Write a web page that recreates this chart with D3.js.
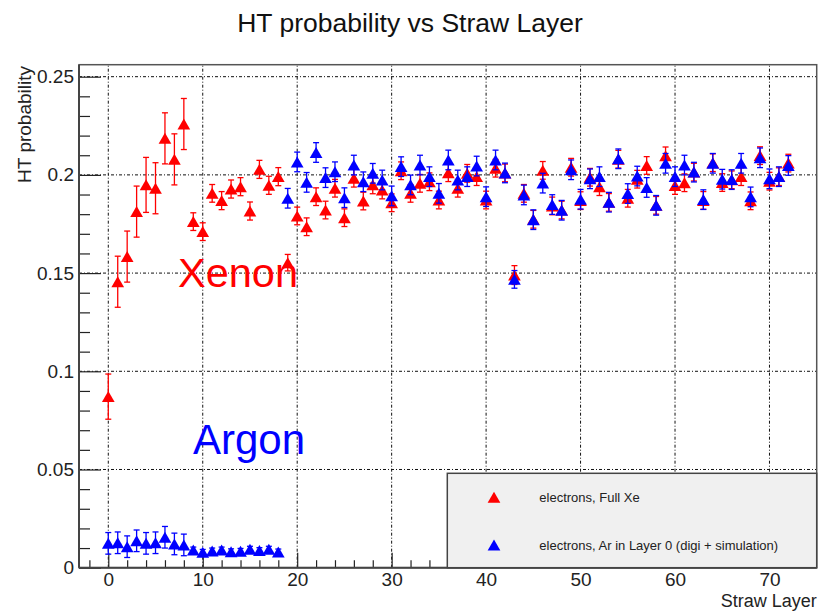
<!DOCTYPE html>
<html>
<head>
<meta charset="utf-8">
<script src="https://cdn.jsdelivr.net/npm/d3@7"></script>
<style>
  html, body { margin: 0; padding: 0; background: #fff; }
  svg { display: block; font-family: "Liberation Sans", Arial, sans-serif; }
</style>
</head>
<body>
<svg id="chart" width="828" height="611"></svg>
<script>
// ---------------- data ----------------
const layers = [0,1,2,3,4,5,6,7,8,9,10,11,12,13,14,15,16,17,18,19,20,21,22,23,24,25,26,27,28,29,30,31,32,33,34,35,36,37,38,39,40,41,42,43,44,45,46,47,48,49,50,51,52,53,54,55,56,57,58,59,60,61,62,63,64,65,66,67,68,69,70,71,72];

const xenonValues = [0.0871,0.1456,0.1584,0.1813,0.1949,0.1932,0.2186,0.2079,0.2259,0.1762,
  0.1711,0.1906,0.1869,0.1928,0.1940,0.1816,0.2028,0.1947,0.1991,0.1553,
  0.1791,0.1736,0.1889,0.1821,0.1932,0.1782,0.1983,0.1867,0.1949,0.1923,
  0.1858,0.2021,0.1906,0.1957,0.1965,0.1872,0.2011,0.1932,0.2008,0.1991,
  0.1872,0.2034,0.2010,0.1490,0.1906,0.1774,0.2023,0.1842,0.1821,0.2039,
  0.1869,0.1988,0.1940,0.1860,0.2080,0.1881,0.1978,0.2048,0.1845,0.2097,
  0.1946,0.1960,0.2014,0.1870,0.2062,0.1961,0.1975,0.1991,0.1868,0.2098,
  0.1968,0.1991,0.2060];
const xenonErrors = [0.0115,0.013,0.013,0.013,0.014,0.013,0.013,0.013,0.013,0.0045,
  0.0045,0.0045,0.0046,0.0046,0.0046,0.0046,0.0046,0.0046,0.0046,0.0042,
  0.0045,0.0045,0.0045,0.0045,0.0045,0.0045,0.0045,0.0045,0.0045,0.0045,
  0.0045,0.0045,0.0045,0.0045,0.0045,0.0045,0.0045,0.0045,0.0045,0.0045,
  0.0045,0.0045,0.0045,0.0048,0.0045,0.0045,0.0045,0.0045,0.0045,0.0045,
  0.0045,0.0045,0.0045,0.0045,0.0045,0.0045,0.0045,0.0045,0.0045,0.0045,
  0.0045,0.0045,0.0045,0.0045,0.0045,0.0045,0.0045,0.0045,0.0045,0.0045,
  0.0045,0.0045,0.0045];

const argonValues = [0.0124,0.0127,0.0107,0.0137,0.0124,0.0127,0.0155,0.0121,0.0116,0.0090,
  0.0078,0.0085,0.0090,0.0081,0.0083,0.0094,0.0087,0.0094,0.0080,0.1881,
  0.2066,0.1962,0.2114,0.1986,0.2016,0.1884,0.2050,0.1965,0.2008,0.1974,
  0.1893,0.2042,0.1949,0.2050,0.1991,0.1906,0.2076,0.1974,0.1991,0.2045,
  0.1889,0.2076,0.2010,0.1468,0.1898,0.1772,0.1958,0.1849,0.1820,0.2026,
  0.1876,0.1980,0.1991,0.1861,0.2082,0.1905,0.1994,0.1936,0.1845,0.2059,
  0.1991,0.2050,0.2014,0.1874,0.2059,0.1978,0.1976,0.2059,0.1888,0.2087,
  0.1980,0.1991,0.2048];
const argonErrors = [0.0055,0.0055,0.0055,0.0055,0.0055,0.0055,0.0055,0.0055,0.0055,0.0015,
  0.0015,0.0015,0.0015,0.0015,0.0015,0.0015,0.0015,0.0015,0.0015,0.005,
  0.005,0.005,0.005,0.005,0.005,0.005,0.005,0.005,0.005,0.005,
  0.005,0.005,0.005,0.005,0.005,0.005,0.005,0.005,0.005,0.005,
  0.005,0.005,0.005,0.0045,0.005,0.005,0.005,0.005,0.005,0.005,
  0.005,0.005,0.005,0.005,0.005,0.005,0.005,0.005,0.005,0.005,
  0.005,0.005,0.005,0.005,0.005,0.005,0.005,0.005,0.005,0.005,
  0.005,0.005,0.005];

const xMajorTicks = [0,10,20,30,40,50,60,70];
const xMinorTicks = [-2,2,4,6,8,12,14,16,18,22,24,26,28,32,34,36,38,42,44,46,48,52,54,56,58,62,64,66,68,72,74];
const yMajorTicks = [0,0.05,0.1,0.15,0.2,0.25];
const yTickLabels = ["0","0.05","0.1","0.15","0.2","0.25"];
const yMinorTicks = [0.01,0.02,0.03,0.04,0.06,0.07,0.08,0.09,0.11,0.12,0.13,0.14,0.16,0.17,0.18,0.19,0.21,0.22,0.23,0.24];

const seriesNames = ["electrons, Full Xe", "electrons, Ar in Layer 0 (digi + simulation)"];
const seriesColors = ["#ff0000", "#0000ff"];
const chartTitle = "HT probability vs Straw Layer";
const xTitle = "Straw Layer";
const yTitle = "HT probability";

// ---------------- chart ----------------
const svg = d3.select("#chart");
const L = 79, R = 816.7, T = 64.7, B = 567.7;
const x = d3.scaleLinear().domain([-3.1, 75.0]).range([L, R]);
const y = d3.scaleLinear().domain([0, 0.2561]).range([B, T]);

svg.append("rect").attr("width", 828).attr("height", 611).attr("fill", "#fff");

// grid
const grid = svg.append("g").attr("stroke", "#111").attr("stroke-width", 1)
  .attr("stroke-dasharray", "3,2,1,2").attr("fill", "none");
grid.selectAll("line.vx").data(xMajorTicks).join("line")
  .attr("x1", d => x(d)).attr("x2", d => x(d)).attr("y1", B).attr("y2", T);
grid.selectAll("line.hy").data(yMajorTicks.filter(d => d > 0)).join("line")
  .attr("x1", L).attr("x2", R).attr("y1", d => y(d)).attr("y2", d => y(d));

// frame
svg.append("rect").attr("x", L).attr("y", T).attr("width", R - L).attr("height", B - T)
  .attr("fill", "none").attr("stroke", "#555").attr("stroke-width", 1.5);

// axes
const fs = 19;
const gx = svg.append("g").attr("transform", `translate(0,${B})`);
gx.call(d3.axisBottom(x).tickValues(xMinorTicks).tickSize(-7.5).tickFormat(""));
gx.call(g => g.select(".domain").remove());
const gx2 = svg.append("g").attr("transform", `translate(0,${B})`);
gx2.call(d3.axisBottom(x).tickValues(xMajorTicks).tickSize(-15).tickPadding(5).tickFormat(d3.format("d")));
gx2.call(g => g.select(".domain").remove());
gx2.selectAll("text").attr("font-size", fs).attr("font-family", "Liberation Sans, Arial, sans-serif").attr("fill", "#222");

const gy = svg.append("g").attr("transform", `translate(${L},0)`);
gy.call(d3.axisLeft(y).tickValues(yMinorTicks).tickSize(-11).tickFormat(""));
gy.call(g => g.select(".domain").remove());
const gy2 = svg.append("g").attr("transform", `translate(${L},0)`);
gy2.call(d3.axisLeft(y).tickValues(yMajorTicks).tickSize(-22).tickPadding(5)
  .tickFormat((d, i) => yTickLabels[i]));
gy2.call(g => g.select(".domain").remove());
gy2.selectAll("text").attr("font-size", fs).attr("font-family", "Liberation Sans, Arial, sans-serif").attr("fill", "#222");
svg.selectAll(".tick line").attr("stroke", "#222").attr("stroke-width", 1.2);

// axis lines (left & bottom darker)
svg.append("line").attr("x1", L).attr("x2", L).attr("y1", T).attr("y2", B).attr("stroke", "#444").attr("stroke-width", 2);
svg.append("line").attr("x1", L).attr("x2", R).attr("y1", B).attr("y2", B).attr("stroke", "#444").attr("stroke-width", 2);

// labels
svg.append("text").attr("x", 410).attr("y", 32).attr("text-anchor", "middle")
  .attr("font-size", 26.5).attr("fill", "#111").text(chartTitle);
svg.append("text").attr("x", R).attr("y", 606.5).attr("text-anchor", "end")
  .attr("font-size", 18).attr("fill", "#222").text(xTitle);
svg.append("text").attr("transform", `translate(31,66) rotate(-90)`).attr("text-anchor", "end")
  .attr("font-size", 19).attr("fill", "#222").text(yTitle);

// markers
const tri = d3.symbol().type(d3.symbolTriangle).size(70);
function drawSeries(vals, errs, color) {
  const g = svg.append("g");
  const data = layers.map((l, i) => ({ l, v: vals[i], e: errs[i] }));
  const eb = g.append("g").attr("stroke", color).attr("stroke-width", 1.3);
  eb.selectAll("line.v").data(data).join("line")
    .attr("x1", d => x(d.l)).attr("x2", d => x(d.l))
    .attr("y1", d => y(d.v - d.e)).attr("y2", d => y(d.v + d.e));
  eb.selectAll("line.t").data(data).join("line")
    .attr("x1", d => x(d.l) - 3).attr("x2", d => x(d.l) + 3)
    .attr("y1", d => y(d.v + d.e)).attr("y2", d => y(d.v + d.e));
  eb.selectAll("line.b").data(data).join("line")
    .attr("x1", d => x(d.l) - 3).attr("x2", d => x(d.l) + 3)
    .attr("y1", d => y(d.v - d.e)).attr("y2", d => y(d.v - d.e));
  g.selectAll("path").data(data).join("path")
    .attr("d", tri).attr("fill", color)
    .attr("transform", d => `translate(${x(d.l)},${y(d.v) + 1.8})`);
}
drawSeries(xenonValues, xenonErrors, seriesColors[0]);
drawSeries(argonValues, argonErrors, seriesColors[1]);

// annotations
svg.append("text").attr("x", 178).attr("y", 286.7).attr("font-size", 41.5)
  .attr("fill", "#ff0000").text("Xenon");
svg.append("text").attr("x", 193).attr("y", 454).attr("font-size", 42)
  .attr("fill", "#0000ff").text("Argon");

// legend
const lg = svg.append("g");
lg.append("rect").attr("x", 447.3).attr("y", 473.3).attr("width", R - 447.3).attr("height", B - 473.3)
  .attr("fill", "#f0f0f0").attr("stroke", "#444").attr("stroke-width", 1.5);
const legendRows = [497.3, 545];
seriesNames.forEach((name, i) => {
  lg.append("path").attr("d", tri).attr("fill", seriesColors[i])
    .attr("transform", `translate(494,${legendRows[i] + 1.8})`);
  lg.append("text").attr("x", 539.3).attr("y", legendRows[i] + 4.5)
    .attr("font-size", 13).attr("fill", "#222").text(name);
});
</script>
</body>
</html>
